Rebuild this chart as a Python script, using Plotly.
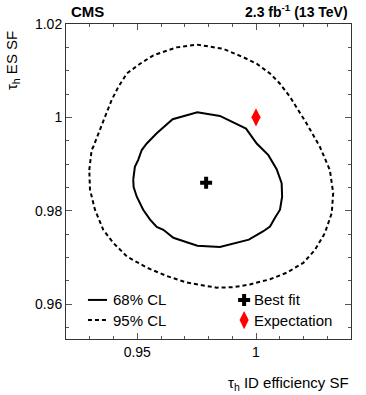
import plotly.graph_objects as go

# 68% CL contour (solid)
cl68_x = [0.9483, 0.9490, 0.9504, 0.9519, 0.9540, 0.9582, 0.9649, 0.9753, 0.9848, 0.9958,
          1.0003, 1.0052, 1.0087, 1.0108, 1.0110, 1.0101, 1.0080, 1.0059, 1.0031, 0.9970,
          0.9848, 0.9753, 0.9652, 0.9610, 0.9582, 0.9554, 0.9525, 0.9498, 0.9485, 0.9483]
cl68_y = [0.9866, 0.9894, 0.9909, 0.9930, 0.9944, 0.9966, 0.9996, 1.0011, 1.0003, 0.9976,
          0.9944, 0.9919, 0.9889, 0.9859, 0.9830, 0.9802, 0.9785, 0.9766, 0.9756, 0.9738,
          0.9722, 0.9725, 0.9742, 0.9759, 0.9765, 0.9781, 0.9802, 0.9830, 0.9850, 0.9866]

# 95% CL contour (dashed)
cl95_x = [0.9298, 0.9308, 0.9315, 0.9336, 0.9364, 0.9392, 0.9420, 0.9456, 0.9512, 0.9568,
          0.9666, 0.9750, 0.9862, 0.9946, 1.0003, 1.0059, 1.0101, 1.0143, 1.0178, 1.0213,
          1.0269, 1.0311, 1.0325, 1.0319, 1.0290, 1.0248, 1.0199, 1.0129, 1.0059, 0.9975,
          0.9904, 0.9834, 0.9708, 0.9680, 0.9624, 0.9540, 0.9456, 0.9399, 0.9357, 0.9322,
          0.9301, 0.9298]
cl95_y = [0.9887, 0.9930, 0.9937, 0.9966, 1.0001, 1.0037, 1.0065, 1.0094, 1.0115, 1.0133,
          1.0150, 1.0156, 1.0147, 1.0129, 1.0115, 1.0094, 1.0072, 1.0044, 1.0015, 0.9987,
          0.9937, 0.9887, 0.9838, 0.9795, 0.9752, 0.9716, 0.9688, 0.9667, 0.9653, 0.9642,
          0.9636, 0.9635, 0.9646, 0.9651, 0.9660, 0.9678, 0.9702, 0.9731, 0.9759, 0.9802,
          0.9845, 0.9887]

best_fit = (0.979, 0.986)
expectation = (1.0, 1.0)

legend_labels = ["68% CL", "95% CL", "Best fit", "Expectation"]

FONT = "Liberation Sans, Arial, Helvetica, sans-serif"
DASH = "4px,3px"

fig = go.Figure()
fig.add_trace(go.Scatter(x=cl95_x, y=cl95_y, mode="lines",
                         line=dict(color="black", width=2, dash=DASH), showlegend=False))
fig.add_trace(go.Scatter(x=cl68_x, y=cl68_y, mode="lines",
                         line=dict(color="black", width=2), showlegend=False))
fig.add_trace(go.Scatter(x=[best_fit[0]], y=[best_fit[1]], mode="markers",
                         marker=dict(symbol="cross", size=10, color="black"), showlegend=False))
fig.add_trace(go.Scatter(x=[expectation[0]], y=[expectation[1]], mode="markers",
                         marker=dict(symbol="diamond-tall", size=13, color="#ff0000"), showlegend=False))

# legend (drawn on an overlay axis in [0,1] coordinates)
row1, row2 = 0.124, 0.060
fig.add_trace(go.Scatter(x=[0.077, 0.144], y=[row1, row1], mode="lines", xaxis="x2", yaxis="y2",
                         line=dict(color="black", width=2), showlegend=False, hoverinfo="skip"))
fig.add_trace(go.Scatter(x=[0.077, 0.144], y=[row2, row2], mode="lines", xaxis="x2", yaxis="y2",
                         line=dict(color="black", width=2, dash=DASH), showlegend=False, hoverinfo="skip"))
fig.add_trace(go.Scatter(x=[0.625], y=[row1], mode="markers", xaxis="x2", yaxis="y2",
                         marker=dict(symbol="cross", size=10, color="black"), showlegend=False, hoverinfo="skip"))
fig.add_trace(go.Scatter(x=[0.625], y=[row2], mode="markers", xaxis="x2", yaxis="y2",
                         marker=dict(symbol="diamond-tall", size=13, color="#ff0000"), showlegend=False, hoverinfo="skip"))

annotations = []
for txt, xx, yy in [(legend_labels[0], 0.158, row1), (legend_labels[1], 0.158, row2),
                    (legend_labels[2], 0.652, row1), (legend_labels[3], 0.652, row2)]:
    annotations.append(dict(text=txt, x=xx, y=yy, xref="paper", yref="paper",
                            xanchor="left", yanchor="middle", showarrow=False,
                            font=dict(family=FONT, size=15, color="black")))
annotations += [
    dict(text="<b>CMS</b>", x=0.012, y=1.005, xref="paper", yref="paper", xanchor="left",
         yanchor="bottom", showarrow=False, font=dict(family=FONT, size=15, color="black")),
    dict(text="<b>2.3 fb<sup>-1</sup> (13 TeV)</b>", x=0.995, y=1.005, xref="paper", yref="paper",
         xanchor="right", yanchor="bottom", showarrow=False, font=dict(family=FONT, size=14, color="black")),
    dict(text="τ<sub>h</sub> ID efficiency SF", x=1.0, y=-0.14, xref="paper", yref="paper",
         xanchor="right", yanchor="middle", showarrow=False, font=dict(family=FONT, size=15, color="black")),
    dict(text="τ<sub>h</sub> ES SF", x=-0.19, y=0.985, xref="paper", yref="paper", textangle=-90,
         xanchor="center", yanchor="top", showarrow=False, font=dict(family=FONT, size=15, color="black")),
]

axis_common = dict(showline=True, linecolor="#333", linewidth=1, mirror="ticks", ticks="inside",
                   ticklen=6, tickcolor="#555", tickwidth=1, showgrid=False, zeroline=False,
                   tickfont=dict(family=FONT, size=14, color="black"))

fig.update_layout(
    width=366, height=395,
    margin=dict(l=66, r=15, t=24, b=56),
    plot_bgcolor="white", paper_bgcolor="white",
    xaxis=dict(range=[0.92, 1.04], dtick=0.05, tick0=0.95,
               minor=dict(dtick=0.01, ticklen=3, ticks="inside", tickcolor="#555"), **axis_common),
    yaxis=dict(range=[0.9525, 1.02001], dtick=0.02, tick0=0.96,
               minor=dict(dtick=0.005, ticklen=3, ticks="inside", tickcolor="#555"), **axis_common),
    xaxis2=dict(range=[0, 1], overlaying="x", visible=False),
    yaxis2=dict(range=[0, 1], overlaying="y", visible=False),
    annotations=annotations,
    showlegend=False,
)

fig.write_html("out.html", config={"displayModeBar": False},
               post_script="document.body.style.margin='0';document.body.style.overflow='hidden';")
